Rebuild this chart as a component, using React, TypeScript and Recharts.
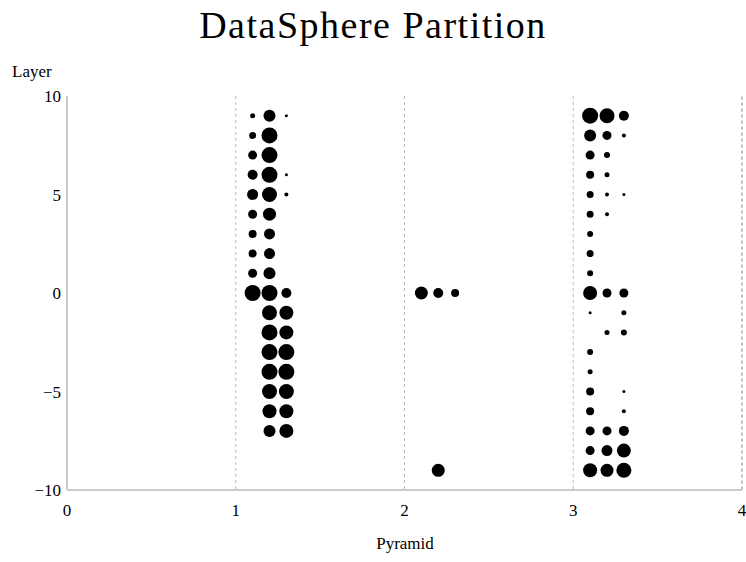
import { ScatterChart, Scatter, XAxis, YAxis, ZAxis, CartesianGrid, ReferenceLine } from 'recharts';

// layers top to bottom; 0 in a size list means no dot in that row
const layers = [9, 8, 7, 6, 5, 4, 3, 2, 1, 0, -1, -2, -3, -4, -5, -6, -7, -8, -9];
const pyramids = [1.1, 1.2, 1.3, 2.1, 2.2, 2.3, 3.1, 3.2, 3.3];

// dot radius, per pyramid column
const size11 = [2.5, 3.5, 4.5, 5, 5.5, 4.5, 4, 4, 4.5, 8, 0, 0, 0, 0, 0, 0, 0, 0, 0];
const size12 = [6, 8, 8, 8, 7.5, 6.5, 5.5, 5.5, 6, 8, 7.5, 8, 8, 8, 7.5, 7, 6, 0, 0];
const size13 = [1.5, 0, 0, 1.5, 2, 0, 0, 0, 0, 5, 7, 7, 8, 8, 7.5, 7, 7, 0, 0];
const size21 = [0, 0, 0, 0, 0, 0, 0, 0, 0, 6.5, 0, 0, 0, 0, 0, 0, 0, 0, 0];
const size22 = [0, 0, 0, 0, 0, 0, 0, 0, 0, 5, 0, 0, 0, 0, 0, 0, 0, 0, 6.5];
const size23 = [0, 0, 0, 0, 0, 0, 0, 0, 0, 4, 0, 0, 0, 0, 0, 0, 0, 0, 0];
const size31 = [8, 6, 4.5, 4, 3.5, 3.5, 3, 3.5, 3, 7, 1.5, 0, 3, 2.5, 4, 4, 4.5, 4.5, 7];
const size32 = [7.5, 4.5, 3, 2.5, 2, 2, 0, 0, 0, 4.5, 0, 2.5, 0, 0, 0, 0, 4.5, 5.5, 6.5];
const size33 = [5, 2, 0, 0, 1.5, 0, 0, 0, 0, 4.5, 2.5, 3, 0, 0, 1.5, 2, 5, 7, 7.5];

const xTicks = [0, 1, 2, 3, 4];
const yTicks = [-10, -5, 0, 5, 10];

const columns = [size11, size12, size13, size21, size22, size23, size31, size32, size33];

const points = columns.flatMap((sizes, i) =>
  sizes
    .map((r, j) => ({ pyramid: pyramids[i], layer: layers[j], z: r * r }))
    .filter(p => p.z > 0)
);

const font = '"Liberation Serif", "DejaVu Serif", serif';
const fmt = (v: number) => (v < 0 ? '\u2212' + Math.abs(v) : String(v));

export default function App() {
  return (
    <div
      style={{
        position: 'relative',
        width: 746,
        height: 562,
        overflow: 'hidden',
        fontFamily: font,
      }}
    >
      <style>{'html, body { margin: 0; padding: 0; overflow: hidden; }'}</style>
      <div
        style={{
          position: 'absolute',
          top: 3,
          left: 0,
          width: 746,
          textAlign: 'center',
          fontSize: 38,
          letterSpacing: 1.5,
          lineHeight: '44px',
        }}
      >
        DataSphere Partition
      </div>
      <div style={{ position: 'absolute', top: 62, left: 12, fontSize: 17 }}>Layer</div>
      <div style={{ position: 'absolute', top: 534, left: 0, width: 810, textAlign: 'center', fontSize: 17 }}>
        Pyramid
      </div>
      {/* the chart runs past the right edge so the "4" tick is cut like in the original */}
      <ScatterChart width={766} height={562} margin={{ top: 96, right: 24, bottom: 42, left: 0 }}>
        <CartesianGrid horizontal={false} strokeDasharray="3 3" stroke="#bbb" />
        <ReferenceLine x={4} stroke="#aaa" strokeDasharray="3 3" />
        <XAxis
          type="number"
          dataKey="pyramid"
          domain={[0, 4]}
          ticks={xTicks}
          interval={0}
          tickSize={0}
          tickMargin={14}
          height={30}
          stroke="#ccc"
          strokeWidth={2}
          tick={{ fill: '#000', fontSize: 17, fontFamily: font }}
        />
        <YAxis
          type="number"
          dataKey="layer"
          domain={[-10, 10]}
          ticks={yTicks}
          interval={0}
          tickSize={0}
          tickMargin={6}
          width={67}
          stroke="#ccc"
          strokeWidth={2}
          tickFormatter={fmt}
          tick={{ fill: '#000', fontSize: 17, fontFamily: font }}
        />
        <ZAxis type="number" dataKey="z" domain={[0, 100]} range={[0, 100 * Math.PI]} />
        <Scatter data={points} fill="#000" isAnimationActive={false} />
      </ScatterChart>
    </div>
  );
}
